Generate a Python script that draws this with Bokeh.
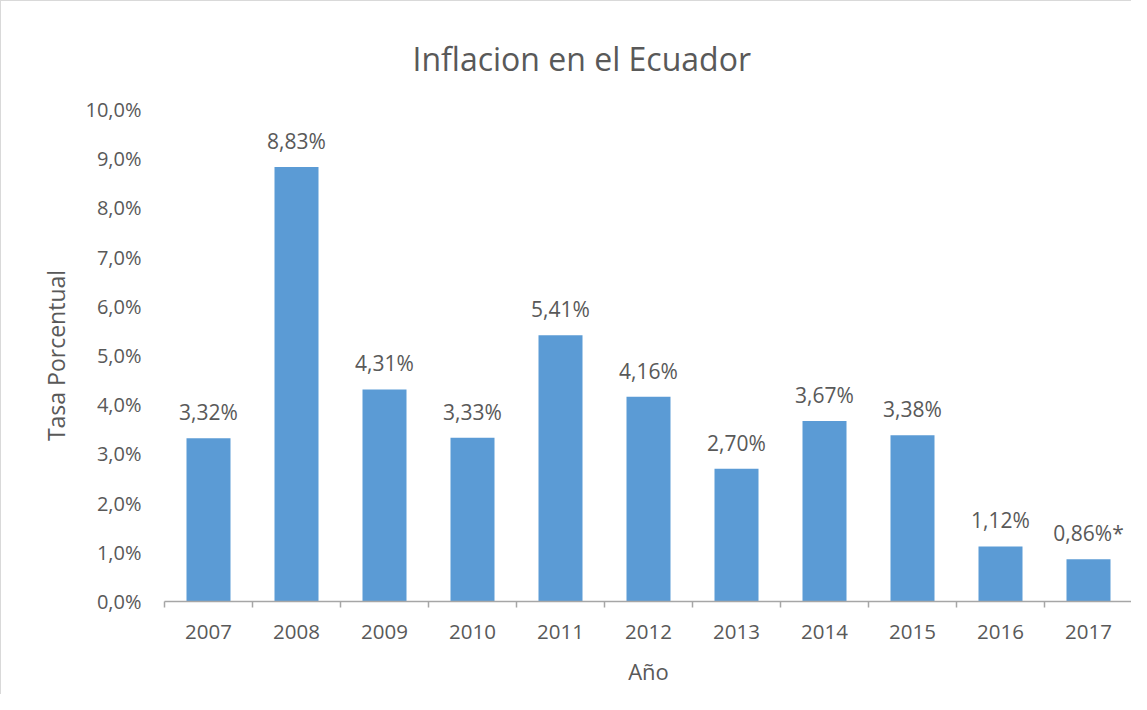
from bokeh.plotting import figure
from bokeh.models import ColumnDataSource, Range1d, FixedTicker, Title
from bokeh.core.properties import value
from bokeh.embed import file_html
from bokeh.resources import INLINE

years = ["2007", "2008", "2009", "2010", "2011", "2012", "2013", "2014", "2015", "2016", "2017"]
inflation = [3.32, 8.83, 4.31, 3.33, 5.41, 4.16, 2.70, 3.67, 3.38, 1.12, 0.86]
notes = ["", "", "", "", "", "", "", "", "", "", "*"]
y_ticks = [0, 1, 2, 3, 4, 5, 6, 7, 8, 9, 10]

FONT = "Open Sans"
TXT = "#595959"

xpos = [i + 0.5 for i in range(len(years))]
labels = [f"{v:.2f}".replace(".", ",") + "%" + n for v, n in zip(inflation, notes)]
src = ColumnDataSource(dict(x=xpos, y=inflation, label=labels))

p = figure(width=1131, height=694, output_backend="svg", toolbar_location=None,
           x_range=Range1d(0, len(years)), y_range=Range1d(0, 10),
           min_border_left=163, min_border_right=0, min_border_top=108, min_border_bottom=94)
p.styles = {"border-top": "1px solid #d9d9d9", "border-left": "1px solid #d9d9d9"}
p.outline_line_color = None
p.grid.visible = False

p.title = Title(text="Inflacion en el Ecuador", align="left", offset=248,
                text_font=FONT, text_font_size="32px", text_font_style="normal",
                text_color=TXT, standoff=60)

p.vbar(x="x", top="y", width=0.5, bottom=0, source=src, color="#5B9BD5", line_color=None)
p.text(x="x", y="y", text="label", source=src, text_align="center", text_baseline="alphabetic",
       y_offset=-26, text_font=value(FONT), text_font_size="21px", text_color=TXT)

# x axis
xa = p.xaxis[0]
xa.ticker = FixedTicker(ticks=xpos, minor_ticks=list(range(len(years) + 1)))
xa.major_label_overrides = {x: y for x, y in zip(xpos, years)}
xa.major_tick_out = 0
xa.major_tick_in = 0
xa.minor_tick_out = 6
xa.minor_tick_in = 0
xa.minor_tick_line_color = "#a6a6a6"
xa.minor_tick_line_width = 1.5
xa.axis_line_color = "#a6a6a6"
xa.axis_line_width = 1.5
xa.major_label_standoff = 17
xa.major_label_text_font = FONT
xa.major_label_text_font_size = "20.5px"
xa.major_label_text_color = TXT
xa.axis_label = "Año"
xa.axis_label_text_font = FONT
xa.axis_label_text_font_size = "22px"
xa.axis_label_text_font_style = "normal"
xa.axis_label_text_color = TXT
xa.axis_label_standoff = 14

# y axis
ya = p.yaxis[0]
ya.ticker = FixedTicker(ticks=y_ticks, minor_ticks=[])
ya.major_label_overrides = {t: f"{t},0%" for t in y_ticks}
ya.axis_line_color = None
ya.major_tick_line_color = None
ya.major_tick_out = 0
ya.major_tick_in = 0
ya.minor_tick_line_color = None
ya.major_label_standoff = 23
ya.major_label_text_font = FONT
ya.major_label_text_font_size = "20px"
ya.major_label_text_color = TXT
ya.axis_label = "Tasa Porcentual"
ya.axis_label_text_font = FONT
ya.axis_label_text_font_size = "23px"
ya.axis_label_text_font_style = "normal"
ya.axis_label_text_color = TXT
ya.axis_label_standoff = 10

open("out.html", "w").write(file_html(p, INLINE))
